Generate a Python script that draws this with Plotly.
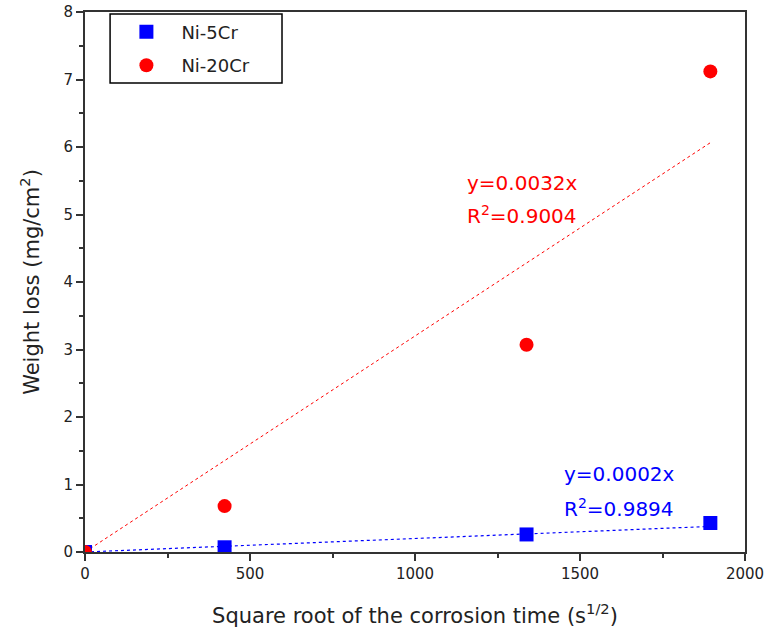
import plotly.graph_objects as go

# Measured weight loss versus square root of corrosion time
time_sqrt = [0, 423, 1338, 1895]
ni5cr = [0.0, 0.07, 0.26, 0.43]
ni20cr = [0.0, 0.68, 3.07, 7.12]

# Linear fits through the origin
slope_5cr = 0.0002
slope_20cr = 0.0032
r2_5cr = 0.9894
r2_20cr = 0.9004
fit_x = [0, 1895]

font_family = "DejaVu Sans, Verdana, sans-serif"
text_color = "#222222"

fig = go.Figure()

fig.add_trace(go.Scatter(
    x=fit_x, y=[slope_20cr * v for v in fit_x], mode="lines",
    line=dict(color="red", width=1, dash="dot"), showlegend=False, hoverinfo="skip"))
fig.add_trace(go.Scatter(
    x=fit_x, y=[slope_5cr * v for v in fit_x], mode="lines",
    line=dict(color="blue", width=1.2, dash="3px,3px"), showlegend=False, hoverinfo="skip"))

fig.add_trace(go.Scatter(
    x=time_sqrt, y=ni5cr, mode="markers", name="Ni-5Cr", legendgroup="a",
    marker=dict(symbol="square", size=14, color="blue")))
fig.add_trace(go.Scatter(
    x=time_sqrt, y=ni20cr, mode="markers", name="Ni-20Cr", legendgroup="b",
    marker=dict(symbol="circle", size=14, color="red")))

ann_font = 20
fig.add_annotation(x=1150, y=5.47, xref="x", yref="y", xanchor="left", yanchor="middle",
                   text=f"y={slope_20cr:.4f}x", showarrow=False,
                   font=dict(color="red", size=ann_font, family=font_family))
fig.add_annotation(x=1150, y=4.99, xref="x", yref="y", xanchor="left", yanchor="middle",
                   text=f"R<sup>2</sup>={r2_20cr:.4f}", showarrow=False,
                   font=dict(color="red", size=ann_font, family=font_family))
fig.add_annotation(x=1445, y=1.16, xref="x", yref="y", xanchor="left", yanchor="middle",
                   text=f"y={slope_5cr:.4f}x", showarrow=False,
                   font=dict(color="blue", size=ann_font, family=font_family))
fig.add_annotation(x=1445, y=0.65, xref="x", yref="y", xanchor="left", yanchor="middle",
                   text=f"R<sup>2</sup>={r2_5cr:.4f}", showarrow=False,
                   font=dict(color="blue", size=ann_font, family=font_family))

# Frame around the legend entries
fig.add_shape(type="rect", xref="paper", yref="paper",
              x0=0.038, x1=0.2985, y0=0.8685, y1=0.9963,
              line=dict(color="black", width=1.5), fillcolor="rgba(0,0,0,0)", layer="above")

axis_common = dict(
    showgrid=False, zeroline=False, showline=True, linecolor="#333333", linewidth=2,
    mirror=True, ticks="outside", ticklen=7, tickwidth=1.5, tickcolor="#333333",
    tickfont=dict(size=15, family=font_family, color=text_color), automargin=False,
)

fig.update_xaxes(
    range=[0, 2000], tickmode="linear", tick0=0, dtick=500,
    minor=dict(ticks="outside", ticklen=4, tickwidth=1.5, tickcolor="#333333", dtick=250),
    title=dict(text="Square root of the corrosion time (s<sup>1/2</sup>)",
               font=dict(size=21, family=font_family, color=text_color), standoff=26),
    **axis_common)
fig.update_yaxes(
    range=[0, 8], tickmode="linear", tick0=0, dtick=1,
    minor=dict(ticks="outside", ticklen=4, tickwidth=1.5, tickcolor="#333333", dtick=0.5),
    title=dict(text="Weight loss (mg/cm<sup>2</sup>)",
               font=dict(size=21, family=font_family, color=text_color), standoff=18),
    **axis_common)

fig.update_layout(
    width=766, height=640,
    margin=dict(l=85, r=21, t=12, b=88),
    plot_bgcolor="white", paper_bgcolor="white",
    legend=dict(x=0.04, y=0.997, xanchor="left", yanchor="top",
                borderwidth=0, bgcolor="rgba(0,0,0,0)",
                font=dict(size=18, family=font_family, color=text_color),
                itemwidth=60, traceorder="grouped", tracegroupgap=7),
)

fig.write_html("out.html")
